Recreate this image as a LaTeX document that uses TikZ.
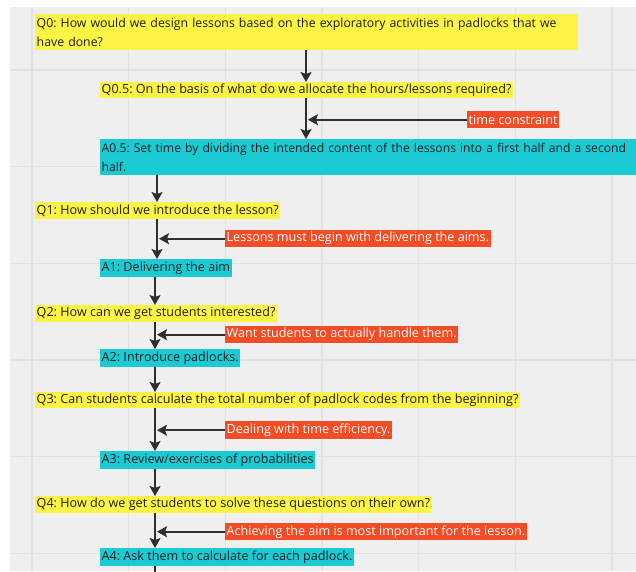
\documentclass[tikz,border=0pt]{standalone}
\usepackage{fontspec}
\setmainfont{Open Sans}
\frenchspacing
\usetikzlibrary{arrows.meta}
\definecolor{bgc}{HTML}{EFEFEF}
\definecolor{gridc}{HTML}{E2E2E2}
\definecolor{qy}{HTML}{FEF445}
\definecolor{ac}{HTML}{1ACBD3}
\definecolor{rc}{HTML}{F24D26}
\definecolor{ink}{HTML}{1E1E1E}
\definecolor{arrc}{HTML}{2E2E2E}
\tikzset{
  box/.style={rectangle, anchor=north west, inner xsep=1.5pt, inner ysep=0pt,
    minimum height=17pt, align=left, text=ink,
    font=\fontsize{12.6}{19}\selectfont\frenchspacing},
  twoline/.style={minimum height=36pt, font=\fontsize{#1}{19}\selectfont\frenchspacing},
  qbox/.style={box, fill=qy},
  abox/.style={box, fill=ac},
  rbox/.style={box, fill=rc, text=white},
  flow/.style={draw=arrc, line width=1.8pt, -{Stealth[length=10pt,width=11pt,inset=2pt]}},
}
\begin{document}
\begin{tikzpicture}[x=1pt,y=-1pt]
\useasboundingbox (0,0) rectangle (636,571);
\fill[white] (0,0) rectangle (636,571);
\fill[bgc] (10,7) rectangle (636,571);
\foreach \gx in {32,128.7,225.3,322,418.7,515.3,612}
  \draw[gridc, line width=1.5pt] (\gx,7) -- (\gx,571);
\foreach \gy in {70,166.7,263.3,360,456.7,553.3}
  \draw[gridc, line width=1.5pt] (10,\gy) -- (636,\gy);

\coordinate (cA) at (306,0);
\coordinate (cB) at (157,0);
\coordinate (cC) at (155,0);

\node[qbox, twoline=12.3, text width=540pt] (Q0) at (35,14) {Q0: How would we design lessons based on the exploratory activities in padlocks that we\\have done?};
\node[qbox, minimum height=16pt] (Q05) at (100,82) {Q0.5: On the basis of what do we allocate the hours/lessons required?};
\node[rbox] (R0) at (467,111) {time constraint};
\node[abox, twoline=12.15, text width=560pt] (A05) at (100,139) {A0.5: Set time by dividing the intended content of the lessons into a first half and a second\\half.};
\node[qbox] (Q1) at (35,202) {Q1: How should we introduce the lesson?};
\node[rbox] (R1) at (225,230) {Lessons must begin with delivering the aims.};
\node[abox, minimum height=18pt] (A1) at (100,259) {A1: Delivering the aim};
\node[qbox] (Q2) at (35,305) {Q2: How can we get students interested?};
\node[rbox] (R2) at (225,326) {Want students to actually handle them.};
\node[abox, minimum height=18pt] (A2) at (100,349) {A2: Introduce padlocks.};
\node[qbox, minimum height=16pt] (Q3) at (35,392) {Q3: Can students calculate the total number of padlock codes from the beginning?};
\node[rbox, minimum height=18pt] (R3) at (225,421) {Dealing with time efficiency.};
\node[abox, minimum height=18pt] (A3) at (100,451) {A3: Review/exercises of probabilities};
\node[qbox] (Q4) at (35,496) {Q4: How do we get students to solve these questions on their own?};
\node[rbox] (R4) at (225,523) {Achieving the aim is most important for the lesson.};
\node[abox, minimum height=18pt] (A4) at (100,548) {A4: Ask them to calculate for each padlock.};
\coordinate (end) at (155,575);

\draw[flow] (Q0.south -| cA) -- (Q05.north -| cA);
\draw[flow] (Q05.south -| cA) -- (A05.north -| cA);
\draw[flow] (R0.west) -- ([xshift=2pt]R0.west -| cA);
\draw[flow] (A05.south -| cB) -- (Q1.north -| cB);
\draw[flow] (Q1.south -| cB) -- (A1.north -| cB);
\draw[flow] (R1.west) -- ([xshift=2pt]R1.west -| cB);
\draw[flow] (A1.south -| cC) -- (Q2.north -| cC);
\draw[flow] (Q2.south -| cC) -- (A2.north -| cC);
\draw[flow] (R2.west) -- ([xshift=2pt]R2.west -| cC);
\draw[flow] (A2.south -| cC) -- (Q3.north -| cC);
\draw[flow] (Q3.south -| cC) -- (A3.north -| cC);
\draw[flow] (R3.west) -- ([xshift=2pt]R3.west -| cC);
\draw[flow] (A3.south -| cC) -- (Q4.north -| cC);
\draw[flow] (Q4.south -| cC) -- (A4.north -| cC);
\draw[flow] (R4.west) -- ([xshift=2pt]R4.west -| cC);
\draw[draw=arrc, line width=1.8pt] (A4.south -| cC) -- (end);
\end{tikzpicture}
\end{document}
